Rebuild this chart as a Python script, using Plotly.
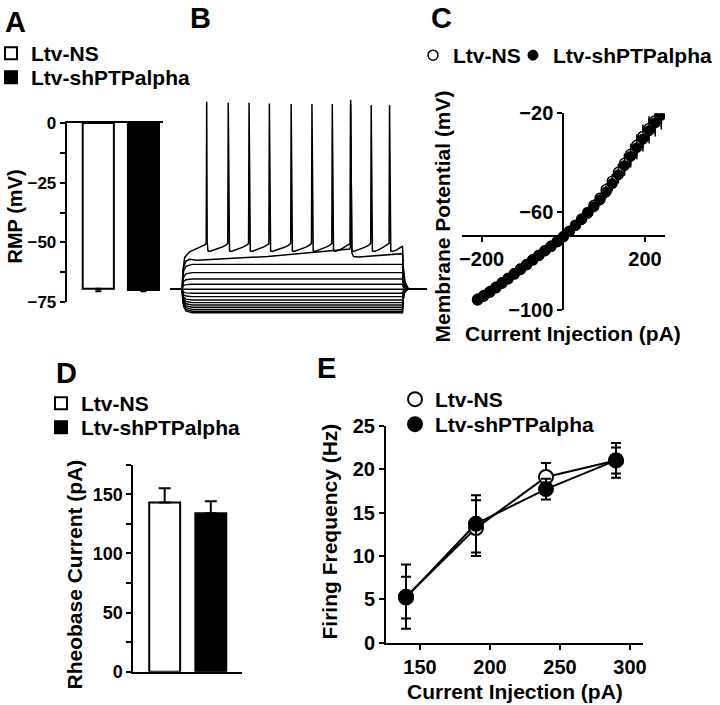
import plotly.graph_objects as go

W, H = 720, 705
FONT = "Liberation Sans, Arial, Helvetica, sans-serif"

# ---------------- Panel A : resting membrane potential ----------------
a_groups = ["Ltv-NS", "Ltv-shPTPalpha"]
a_rmp = [-69.5, -70.0]
a_rmp_err = [1.0, 0.5]
a_yticks = [0, -25, -50, -75]
a_yminor = [-12.5, -37.5, -62.5]

# ---------------- Panel B : example voltage traces ----------------
b_rest = -70.0
b_t_on, b_t_off, b_t_end = 50, 950, 1050          # ms
b_levels = [-56.7, -61.1, -64.5, -67.3, -70.0, -72.1, -73.9, -75.7,
            -77.1, -78.4, -79.6, -80.7, -81.7, -82.5]   # mV, subthreshold steps
b_spike_t = [150, 238, 323, 406, 495, 580, 663, 738, 822, 897]   # ms
b_spike_peak = [30.0, 29.5, 29.5, 29.1, 28.8, 28.8, 28.8, 29.0, 28.2, 28.2]  # mV
b_spk_offset = [-25, -8, -2, 0, 2, 5, 12, 30]            # ms around each spike
b_spk_level = [-47.5, -46.3, -45.5, None, -45.0, -49.5, -49.8, -49.0]  # mV (None = peak)
b_sag_t = [0, 50, 52, 56, 65, 80, 110, 400, 734, 737, 738, 740, 743, 750, 770, 950, 953, 960, 975, 1050]
b_sag_v = [-70, -70, -63, -58, -55, -54, -54.5, -52.5, -48.5, -47.5, 31, -46, -50.5, -52.5, -52.8,
           -51, -60, -67, -70, -70]

# ---------------- Panel C : I-V relation ----------------
c_current = [-210, -195, -180, -165, -150, -135, -120, -105, -90, -75, -60, -45, -30, -15, 0,
             15, 30, 45, 60, 75, 90, 105, 120, 135, 150, 165, 180, 195, 210, 225, 240]
c_ns = [-95.9, -94.4, -92.8, -91.0, -89.1, -87.3, -85.4, -83.5, -81.6, -79.7, -77.8, -75.9,
        -74.1, -72.2, -70.2, -68.0, -65.5, -63.0, -60.3, -57.4, -54.5, -51.0, -47.6, -44.0,
        -40.3, -36.7, -33.0, -29.4, -26.2, -23.0, -20.0]
c_ns_err = [2.0, 1.9, 1.8, 1.8, 1.7, 1.6, 1.5, 1.5, 1.4, 1.3, 1.2, 1.1, 1.0, 0.9, 0.8,
            0.9, 1.0, 1.2, 1.4, 1.7, 2.0, 2.5, 3.0, 3.5, 4.0, 4.3, 4.5, 4.8, 5.0, 5.3, 5.6]
c_sh = [-95.5, -94.0, -92.4, -90.6, -88.8, -87.0, -85.1, -83.2, -81.4, -79.5, -77.7, -75.9,
        -74.0, -72.1, -70.2, -68.0, -65.6, -63.2, -60.7, -58.0, -55.2, -52.0, -48.6, -45.0,
        -41.3, -37.6, -34.0, -30.5, -27.1, -23.9, -20.8]
c_sh_err = [2.2, 2.0, 1.9, 1.8, 1.7, 1.6, 1.6, 1.5, 1.4, 1.3, 1.2, 1.1, 1.0, 0.9, 0.8,
            0.9, 1.1, 1.3, 1.5, 1.8, 2.2, 2.6, 3.1, 3.6, 4.1, 4.4, 4.7, 5.0, 5.2, 5.5, 5.8]
c_xticks = [-200, 200]
c_yticks = [-100, -60, -20]

# ---------------- Panel D : rheobase ----------------
d_groups = ["Ltv-NS", "Ltv-shPTPalpha"]
d_rheobase = [143.0, 134.0]
d_rheobase_err = [12.0, 10.0]
d_yticks = [0, 50, 100, 150]
d_yminor = [25, 75, 125, 175]

# ---------------- Panel E : firing frequency ----------------
e_current = [140, 190, 240, 290]
e_ns = [5.3, 13.2, 19.1, 21.0]
e_ns_err = [3.7, 3.2, 1.6, 2.0]
e_sh = [5.2, 13.7, 17.7, 21.0]
e_sh_err = [2.4, 3.3, 1.2, 1.5]
e_xticks = [150, 200, 250, 300]
e_yticks = [0, 5, 10, 15, 20, 25]


def px(x):
    return x / W


def py(y):
    return 1 - y / H


def bold(size):
    return dict(family=FONT, size=size, color="black", weight="bold")


fig = go.Figure()

# ---- A bars
for i, fill in enumerate(["white", "black"]):
    fig.add_trace(go.Bar(
        x=[a_groups[i]], y=[a_rmp[i]], name=a_groups[i], width=0.69,
        marker=dict(color=fill, line=dict(color="black", width=2)),
        error_y=dict(type="data", symmetric=False, array=[0], arrayminus=[a_rmp_err[i]],
                     color="black", thickness=2, width=3),
        xaxis="x", yaxis="y", legend="legend" if i == 0 else "legend2"))

# ---- B traces
ramp = [0.0, 0.0, 0.45, 0.75, 0.92, 1.0]
ramp_t = [0, b_t_on, b_t_on + 2, b_t_on + 6, b_t_on + 15, b_t_on + 40]
off_t = [b_t_off, b_t_off + 2, b_t_off + 8, b_t_off + 20, b_t_end]
off_f = [1.0, 0.5, 0.15, 0.0, 0.0]
for L in b_levels:
    d = L - b_rest
    t = ramp_t + off_t
    v = [b_rest + f * d for f in ramp] + [b_rest + f * d for f in off_f]
    fig.add_trace(go.Scatter(x=t, y=v, mode="lines", line=dict(color="black", width=1.4),
                             xaxis="x2", yaxis="y2", showlegend=False, hoverinfo="skip"))
fig.add_trace(go.Scatter(x=b_sag_t, y=b_sag_v, mode="lines", line=dict(color="black", width=1.5),
                         xaxis="x2", yaxis="y2", showlegend=False, hoverinfo="skip"))
st = [0, b_t_on, b_t_on + 3, b_t_on + 10, b_t_on + 30]
sv = [b_rest, b_rest, -60, -53, -50]
for tt, pk in zip(b_spike_t, b_spike_peak):
    for off, lv in zip(b_spk_offset, b_spk_level):
        st.append(tt + off)
        sv.append(pk if lv is None else lv)
st += [b_t_off, b_t_off + 3, b_t_off + 10, b_t_off + 25, b_t_end]
sv += [-47, -58, -66, b_rest, b_rest]
fig.add_trace(go.Scatter(x=st, y=sv, mode="lines", line=dict(color="black", width=1.5),
                         xaxis="x2", yaxis="y2", showlegend=False, hoverinfo="skip"))

# ---- C scatter (open drawn first, filled on top)
fig.add_trace(go.Scatter(
    x=c_current, y=c_ns, mode="markers", name="Ltv-NS",
    marker=dict(symbol="circle", size=10, color="white", line=dict(color="black", width=1.5)),
    error_y=dict(type="data", array=c_ns_err, color="black", thickness=1.5, width=0),
    xaxis="x3", yaxis="y3", legend="legend5"))
fig.add_trace(go.Scatter(
    x=c_current, y=c_sh, mode="markers", name="Ltv-shPTPalpha",
    marker=dict(symbol="circle", size=10, color="black", line=dict(color="black", width=1)),
    error_y=dict(type="data", array=c_sh_err, color="black", thickness=1.5, width=0),
    xaxis="x3", yaxis="y3", legend="legend6"))

# ---- D bars
for i, fill in enumerate(["white", "black"]):
    fig.add_trace(go.Bar(
        x=[d_groups[i]], y=[d_rheobase[i]], name=d_groups[i], width=0.67,
        marker=dict(color=fill, line=dict(color="black", width=2)),
        error_y=dict(type="data", symmetric=False, array=[d_rheobase_err[i]], arrayminus=[0],
                     color="black", thickness=2, width=6),
        xaxis="x4", yaxis="y4", legend="legend3" if i == 0 else "legend4"))

# ---- E lines + markers
for yv in (e_ns, e_sh):
    fig.add_trace(go.Scatter(x=e_current, y=yv, mode="lines", line=dict(color="black", width=2),
                             xaxis="x5", yaxis="y5", showlegend=False, hoverinfo="skip"))
fig.add_trace(go.Scatter(
    x=e_current, y=e_ns, mode="markers", name="Ltv-NS",
    marker=dict(symbol="circle", size=14, color="white", line=dict(color="black", width=2)),
    error_y=dict(type="data", array=e_ns_err, color="black", thickness=2, width=5),
    xaxis="x5", yaxis="y5", legend="legend7"))
fig.add_trace(go.Scatter(
    x=e_current, y=e_sh, mode="markers", name="Ltv-shPTPalpha",
    marker=dict(symbol="circle", size=14, color="black", line=dict(color="black", width=2)),
    error_y=dict(type="data", array=e_sh_err, color="black", thickness=2, width=5),
    xaxis="x5", yaxis="y5", legend="legend8"))

axis_common = dict(showline=True, linecolor="black", linewidth=2, showgrid=False,
                   zeroline=False, ticks="outside", tickwidth=2, tickcolor="black", ticklen=5)


def leg(left_px, center_px):
    return dict(x=px(left_px), y=py(center_px - 20), bgcolor="rgba(0,0,0,0)", borderwidth=0,
                xanchor="left", yanchor="top", font=bold(21),
                itemclick=False, itemdoubleclick=False)


fig.update_layout(
    width=W, height=H, margin=dict(l=0, r=0, t=0, b=0, autoexpand=False),
    paper_bgcolor="white", plot_bgcolor="rgba(0,0,0,0)",
    barmode="overlay", showlegend=True, font=dict(family=FONT, color="black"),
    # A
    xaxis=dict(domain=[px(66.7), px(163)], range=[-0.7, 1.433], anchor="y", side="top",
               showline=True, linecolor="black", linewidth=2, ticks="", showticklabels=False,
               showgrid=False, zeroline=False, fixedrange=True),
    yaxis=dict(domain=[py(302), py(123)], range=[-75, 0], anchor="x", tickvals=a_yticks,
               tickfont=bold(17),
               minor=dict(tickvals=a_yminor, ticks="outside", ticklen=5, tickwidth=2,
                          tickcolor="black"),
               **axis_common),
    # B
    xaxis2=dict(domain=[px(170), px(427)], range=[0, 1050], visible=False, anchor="y2"),
    yaxis2=dict(domain=[py(317.4), py(98)], range=[-85, 32], visible=False, anchor="x2"),
    # C
    xaxis3=dict(domain=[px(462), px(665)], range=[-248, 249], anchor="free", position=py(236.2),
                tickvals=c_xticks, tickfont=bold(20), **axis_common),
    yaxis3=dict(domain=[py(310), py(113.3)], range=[-100, -20], anchor="free",
                position=px(563.3), tickvals=c_yticks, tickfont=bold(20), **axis_common),
    # D
    xaxis4=dict(domain=[px(133.3), px(241.7)], range=[-0.68, 1.67], anchor="y4",
                showline=True, linecolor="black", linewidth=2, ticks="", showticklabels=False,
                showgrid=False, zeroline=False),
    yaxis4=dict(domain=[py(671.7), py(464.7)], range=[0, 175], anchor="x4", tickvals=d_yticks,
                tickfont=bold(18),
                minor=dict(tickvals=d_yminor, ticks="outside", ticklen=5, tickwidth=2,
                           tickcolor="black"),
                **axis_common),
    # E
    xaxis5=dict(domain=[px(386), px(643)], range=[125.7, 309.3], anchor="y5",
                tickvals=e_xticks, tickfont=bold(20), **axis_common),
    yaxis5=dict(domain=[py(642.7), py(425.7)], range=[0, 25], anchor="x5",
                tickvals=e_yticks, tickfont=bold(20), **axis_common),
    legend=leg(-9, 53), legend2=leg(-9, 77),
    legend3=leg(41, 403), legend4=leg(41, 427),
    legend5=leg(413, 55), legend6=leg(513, 55),
    legend7=leg(395, 399), legend8=leg(395, 424),
)

annos = [
    ("A", 15, 22, 0, 29), ("B", 200, 18, 0, 29), ("C", 441, 18, 0, 29),
    ("D", 66, 373, 0, 29), ("E", 326, 368, 0, 29),
    ("RMP (mV)", 15, 216.5, -90, 20),
    ("Membrane Potential (mV)", 442, 216.5, -90, 21),
    ("Current Injection (pA)", 573, 333, 0, 21),
    ("Rheobase Current (pA)", 73.5, 575, -90, 21),
    ("Firing Frequency (Hz)", 329, 531.5, -90, 21),
    ("Current Injection (pA)", 515, 691.7, 0, 21),
]
for text, x, y, ang, size in annos:
    fig.add_annotation(text=text, x=px(x), y=py(y), xref="paper", yref="paper",
                       xanchor="center", yanchor="middle", showarrow=False,
                       textangle=ang, font=bold(size))

fig.write_html("out.html", config={"displayModeBar": False},
               post_script="document.body.style.margin='0px';document.body.style.padding='0px';")
